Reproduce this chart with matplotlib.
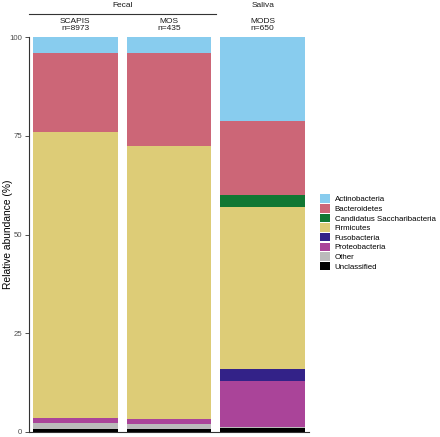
import matplotlib
matplotlib.use("Agg")
import matplotlib.pyplot as plt
from matplotlib.patches import Patch
from matplotlib.lines import Line2D

plt.rcParams['font.family'] = ['Liberation Sans', 'DejaVu Sans']

cohorts = ["SCAPIS", "MOS", "MODS"]
cohort_n = ["n=8973", "n=435", "n=650"]
groups = ["Fecal", "Saliva"]
group_members = [[0, 1], [2]]

phyla = ["Actinobacteria", "Bacteroidetes", "Candidatus Saccharibacteria",
         "Firmicutes", "Fusobacteria", "Proteobacteria", "Other", "Unclassified"]
colors = ["#88CCEE", "#CC6677", "#117733", "#DDCC77", "#332288", "#AA4499",
          "#BBBBBB", "#000000"]

# relative abundance (%) per cohort: SCAPIS, MOS, MODS
actinobacteria = [4.0, 4.1, 21.3]
bacteroidetes = [20.1, 23.5, 18.8]
saccharibacteria = [0.0, 0.0, 2.9]
firmicutes = [72.4, 69.1, 41.1]
fusobacteria = [0.0, 0.0, 2.9]
proteobacteria = [1.3, 1.3, 11.7]
other = [1.5, 1.2, 0.2]
unclassified = [0.7, 0.8, 1.1]

values = [actinobacteria, bacteroidetes, saccharibacteria, firmicutes,
          fusobacteria, proteobacteria, other, unclassified]

W, H = 440, 437
fig = plt.figure(figsize=(W / 100, H / 100), dpi=100)
ax = fig.add_axes([29 / W, (H - 432) / H, 280 / W, 395 / H])

x = list(range(len(cohorts)))
bottom = [0.0] * len(cohorts)
for name, col, vals in reversed(list(zip(phyla, colors, values))):
    ax.bar(x, vals, bottom=bottom, width=0.904, color=col, linewidth=0)
    bottom = [b + v for b, v in zip(bottom, vals)]

ax.set_xlim(-0.495, 2.495)
ax.set_ylim(0, 100)
ax.set_yticks([0, 25, 50, 75, 100])
ax.set_yticklabels(["0", "25", "50", "75", "100"])
ax.set_xticks([])
for s in ["top", "right"]:
    ax.spines[s].set_visible(False)
for s in ["left", "bottom"]:
    ax.spines[s].set_color("#333333")
    ax.spines[s].set_linewidth(0.8)
ax.tick_params(axis="y", length=3, width=0.6, color="#333333",
               labelsize=5.6, labelcolor="#4D4D4D", pad=2)
fig.text(8.5 / W, 1 - 234.5 / H, "Relative abundance (%)", rotation=90,
         ha="center", va="center", fontsize=7.4, color="black")

# facet strips
def xdata_to_fig(xv):
    disp = ax.transData.transform((xv, 0))
    return fig.transFigure.inverted().transform(disp)[0]

strip_fs = 6.0
for i, (c, n) in enumerate(zip(cohorts, cohort_n)):
    fx = xdata_to_fig(i)
    fig.text(fx, 1 - 21.5 / H, c, ha="center", va="center", fontsize=strip_fs, color="#1A1A1A")
    fig.text(fx, 1 - 29 / H, n, ha="center", va="center", fontsize=strip_fs, color="#1A1A1A")

for g, members in zip(groups, group_members):
    x0 = xdata_to_fig(min(members) - 0.495)
    x1 = xdata_to_fig(max(members) + 0.495)
    if len(members) > 1:
        x1 = 216 / W
        x0 = 29 / W
        fig.add_artist(Line2D([x0, x1], [1 - 14.3 / H, 1 - 14.3 / H],
                              color="#333333", linewidth=0.8))
    fig.text((x0 + x1) / 2, 1 - 5.5 / H, g, ha="center", va="center",
             fontsize=strip_fs, color="#1A1A1A")

handles = [Patch(facecolor=c, edgecolor="none") for c in colors]
leg = fig.legend(handles, phyla, loc="upper left",
                 bbox_to_anchor=(320 / W, 1 - 194.5 / H), frameon=False,
                 fontsize=5.7, handlelength=1.27, handleheight=1.27,
                 handletextpad=0.6, labelspacing=0.09, borderaxespad=0,
                 borderpad=0)

fig.savefig("out.png", dpi=100)
